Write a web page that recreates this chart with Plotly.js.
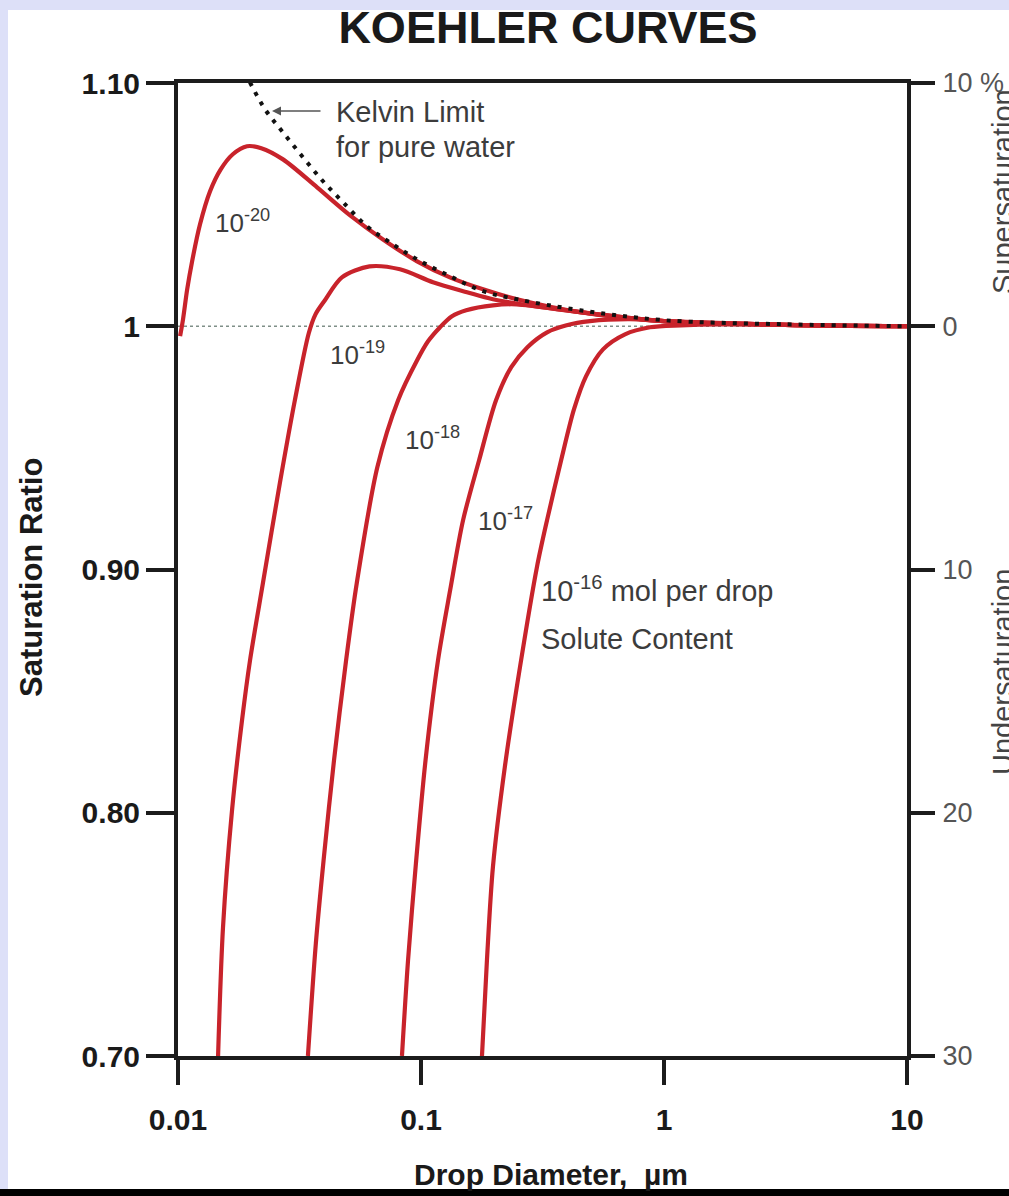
<!DOCTYPE html>
<html>
<head>
<meta charset="utf-8">
<script src="https://cdn.plot.ly/plotly-3.0.1.min.js"></script>
<style>
  html, body { margin: 0; padding: 0; background: #dde0f8; }
  #chart { width: 1009px; height: 1196px; }
</style>
</head>
<body>
<div id="chart"></div>
<script>
// ---- Data (drop diameter in µm, saturation ratio) ----
const kelvinD = [0.01977, 0.02281, 0.02704, 0.03266, 0.03952, 0.04775, 0.05994, 0.07451, 0.09638, 0.1315, 0.180, 0.2485, 0.451, 1.0, 3.16, 10];
const kelvinS = [1.1003, 1.0892, 1.0797, 1.0695, 1.0596, 1.0510, 1.0411, 1.0345, 1.0275, 1.0206, 1.0144, 1.0111, 1.0066, 1.0025, 1.0008, 1.0000];

// 1e-20 mol per drop
const n20D = [0.01020, 0.01049, 0.01091, 0.01143, 0.01232, 0.01355, 0.01499, 0.01681, 0.01923, 0.02202, 0.02704, 0.03736, 0.05108, 0.06976, 0.09638, 0.1315, 0.180, 0.2485, 0.451, 1.0, 3.16, 10];
const n20S = [0.9959, 1.0029, 1.0152, 1.0267, 1.0419, 1.0555, 1.0645, 1.0707, 1.0740, 1.0732, 1.0686, 1.0571, 1.0456, 1.0357, 1.0267, 1.0201, 1.0152, 1.0111, 1.0058, 1.0021, 1.0006, 1.0000];

// 1e-19
const n19D = [0.01462, 0.01532, 0.01669, 0.01835, 0.01979, 0.02236, 0.02625, 0.03027, 0.03452, 0.03679, 0.04023, 0.04726, 0.06141, 0.08193, 0.1120, 0.1546, 0.1977, 0.451, 1.0, 3.16, 10];
const n19S = [0.700, 0.7530, 0.8011, 0.8381, 0.8627, 0.8944, 0.9355, 0.9696, 0.9971, 1.0049, 1.0107, 1.0201, 1.0246, 1.0234, 1.0181, 1.0140, 1.0111, 1.0058, 1.0021, 1.0006, 1.0000];

// 1e-18
const n18D = [0.03425, 0.03693, 0.03973, 0.04386, 0.04918, 0.05441, 0.06615, 0.08050, 0.09638, 0.1069, 0.1198, 0.1341, 0.1535, 0.1977, 0.2474, 0.451, 1.0, 3.16, 10];
const n18S = [0.700, 0.7464, 0.7805, 0.8216, 0.8627, 0.8944, 0.9421, 0.9696, 0.9860, 0.9938, 0.9996, 1.0041, 1.0066, 1.0086, 1.0090, 1.0058, 1.0021, 1.0006, 1.0000];

// 1e-17
const n17D = [0.08349, 0.08845, 0.09533, 0.1044, 0.1175, 0.1318, 0.1490, 0.1734, 0.2036, 0.2352, 0.2741, 0.3302, 0.3973, 0.4960, 0.7244, 1.0, 3.16, 10];
const n17S = [0.700, 0.7394, 0.7793, 0.8216, 0.8627, 0.8915, 0.9203, 0.9449, 0.9696, 0.9832, 0.9914, 0.9975, 1.0004, 1.0021, 1.0029, 1.0021, 1.0006, 1.0000];

// 1e-16
const n16D = [0.1782, 0.1869, 0.1977, 0.2213, 0.2555, 0.3000, 0.3302, 0.3773, 0.4263, 0.4775, 0.5610, 0.6910, 0.8757, 1.175, 1.700, 3.15, 10];
const n16S = [0.700, 0.7398, 0.7777, 0.8188, 0.8599, 0.9010, 0.9203, 0.9449, 0.9659, 0.9794, 0.9905, 0.9967, 0.9996, 1.0004, 1.0008, 1.0006, 1.0000];

const xTickVals = [0.01, 0.1, 1, 10];
const xTickText = ['0.01', '0.1', '1', '10'];
const yTickVals = [1.10, 1.00, 0.90, 0.80, 0.70];
const yTickText = ['1.10', '1', '0.90', '0.80', '0.70'];
const y2TickText = ['10 %', '0', '10', '20', '30'];

// ---- Layout helpers (pixel -> paper) ----
const L = 178, R = 907, T = 83, B = 1056;
const px = v => (v - L) / (R - L);
const py = v => (B - v) / (B - T);

const RED = '#c8232b';
const AX = '#1c1c1c';
const TXT = '#3c3c3c';
const FONT = 'Liberation Sans, Arial, Helvetica, sans-serif';

const redLine = {color: RED, width: 4.2, shape: 'spline', smoothing: 0.85};

const traces = [
  {x: [0.01, 10], y: [1, 1], mode: 'lines', line: {color: '#7f8f88', width: 1.6, dash: '3px,3px'}, hoverinfo: 'skip'},
  {x: n20D, y: n20S, mode: 'lines', line: redLine, name: '1e-20'},
  {x: n19D, y: n19S, mode: 'lines', line: redLine, name: '1e-19'},
  {x: n18D, y: n18S, mode: 'lines', line: redLine, name: '1e-18'},
  {x: n17D, y: n17S, mode: 'lines', line: redLine, name: '1e-17'},
  {x: n16D, y: n16S, mode: 'lines', line: redLine, name: '1e-16'},
  {x: kelvinD, y: kelvinS, mode: 'lines', line: {color: '#111', width: 4, dash: '4px,7px', shape: 'spline', smoothing: 1}, name: 'Kelvin'},
  {x: [1], y: [1], yaxis: 'y2', mode: 'none', hoverinfo: 'skip', showlegend: false}
];

const ann = (text, x, y, opts) => Object.assign({
  text: text, xref: 'paper', yref: 'paper', x: px(x), y: py(y),
  xanchor: 'left', yanchor: 'middle', showarrow: false,
  font: {family: FONT, size: 29, color: TXT}
}, opts || {});

const annotations = [
  ann('Kelvin Limit', 334, 112),
  ann('for pure water', 334, 147),
  ann('10<sup>-20</sup>', 213, 221, {font: {family: FONT, size: 26, color: TXT}}),
  ann('10<sup>-19</sup>', 328, 353, {font: {family: FONT, size: 26, color: TXT}}),
  ann('10<sup>-18</sup>', 403, 438, {font: {family: FONT, size: 26, color: TXT}}),
  ann('10<sup>-17</sup>', 476, 519, {font: {family: FONT, size: 26, color: TXT}}),
  ann('10<sup>-16</sup> mol per drop', 539, 589),
  ann('Solute Content', 539, 639),
  // arrow for Kelvin limit
  {text: '', xref: 'paper', yref: 'paper', x: px(272), y: py(111), ax: 50, ay: 0,
   showarrow: true, arrowhead: 2, arrowsize: 1.2, arrowwidth: 1.5, arrowcolor: '#555'},
  // axis titles
  ann('Saturation Ratio', 31, 578, {xanchor: 'center', textangle: -90,
    font: {family: FONT, size: 31, color: '#1a1a1a', weight: 'bold'}}),
  ann('Drop Diameter,  \u00b5m', 551, 1174, {xanchor: 'center',
    font: {family: FONT, size: 30, color: '#1a1a1a', weight: 'bold'}}),
  ann('Supersaturation', 1003, 192, {xanchor: 'center', textangle: -90,
    font: {family: FONT, size: 29, color: '#444'}}),
  ann('Undersaturation', 1003, 672, {xanchor: 'center', textangle: -90,
    font: {family: FONT, size: 29, color: '#444'}})
];

const layout = {
  width: 1009, height: 1196,
  margin: {l: L, r: 1009 - R, t: T, b: 1196 - B, pad: 0},
  paper_bgcolor: '#dde0f8',
  plot_bgcolor: '#ffffff',
  showlegend: false,
  title: {text: 'KOEHLER CURVES', xref: 'container', yref: 'container',
          x: 548 / 1009, y: 1 - 27 / 1196, xanchor: 'center', yanchor: 'middle',
          font: {family: FONT, size: 45, color: '#1a1a1a', weight: 'bold'}},
  xaxis: {
    type: 'log', range: [-2, 1], showgrid: false, zeroline: false,
    showline: true, linecolor: AX, linewidth: 4, mirror: true,
    ticks: 'outside', ticklen: 25, tickwidth: 4, tickcolor: AX,
    tickvals: xTickVals, ticktext: xTickText, ticklabelstandoff: 9,
    tickfont: {family: FONT, size: 30, color: '#1a1a1a', weight: 'bold'}
  },
  yaxis: {
    range: [0.70, 1.10], showgrid: false, zeroline: false,
    showline: true, linecolor: AX, linewidth: 4,
    ticks: 'outside', ticklen: 28, tickwidth: 4, tickcolor: AX,
    tickvals: yTickVals, ticktext: yTickText, ticklabelstandoff: 0,
    tickfont: {family: FONT, size: 30, color: '#1a1a1a', weight: 'bold'}
  },
  yaxis2: {
    overlaying: 'y', side: 'right', anchor: 'x',
    range: [0.70, 1.10], showgrid: false, zeroline: false,
    showline: true, linecolor: AX, linewidth: 4,
    ticks: 'outside', ticklen: 24, tickwidth: 4, tickcolor: AX,
    tickvals: yTickVals, ticktext: y2TickText, ticklabelstandoff: 2,
    tickfont: {family: FONT, size: 27, color: '#555'}
  },
  shapes: [
    {type: 'rect', xref: 'paper', yref: 'paper', layer: 'below',
     x0: px(8), x1: px(1030), y0: py(1189), y1: py(10),
     fillcolor: '#ffffff', line: {width: 0}},
    {type: 'rect', xref: 'paper', yref: 'paper', layer: 'below',
     x0: px(-10), x1: px(1030), y0: py(1210), y1: py(1189),
     fillcolor: '#000000', line: {width: 0}}
  ],
  annotations: annotations
};

Plotly.newPlot('chart', traces, layout, {staticPlot: true, displayModeBar: false});
</script>
</body>
</html>
